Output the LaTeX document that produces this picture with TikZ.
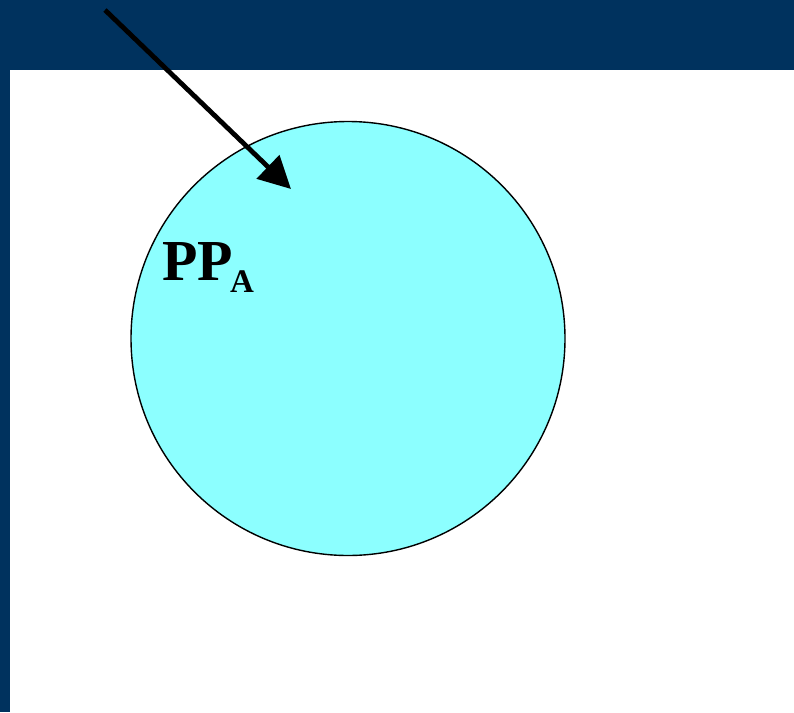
\documentclass[tikz,border=0pt]{standalone}
\usepackage{fontspec}
\setmainfont{Liberation Serif}
\usetikzlibrary{arrows.meta, positioning}
\definecolor{navy}{RGB}{0,50,94}
\definecolor{poolcyan}{RGB}{140,255,255}

\begin{document}
\begin{tikzpicture}[x=1pt, y=-1pt,
  pool/.style={circle, draw, line width=1.4pt, fill=poolcyan, minimum size=434pt, inner sep=0pt},
  pointer/.style={line width=4.8pt, -{Triangle[length=32pt, width=32pt]}},
  lbl/.style={font=\bfseries\fontsize{58}{58}\selectfont, inner sep=0pt}]
  \useasboundingbox (0,0) rectangle (794,712);
  % frame of the slide
  \fill[navy] (0,0) rectangle (794,70);
  \fill[navy] (0,0) rectangle (10,712);
  \node[pool] (poolA) at (348,338.5) {};
  \node[lbl, anchor=base west] (nameA) at (162,280)
    {PP\kern-3pt\raisebox{-12pt}{\fontsize{33}{33}\selectfont A}};
  \coordinate (start) at (105,10);
  \coordinate (tip) at (291,189);
  \draw[pointer] (start) -- (tip);
\end{tikzpicture}
\end{document}
